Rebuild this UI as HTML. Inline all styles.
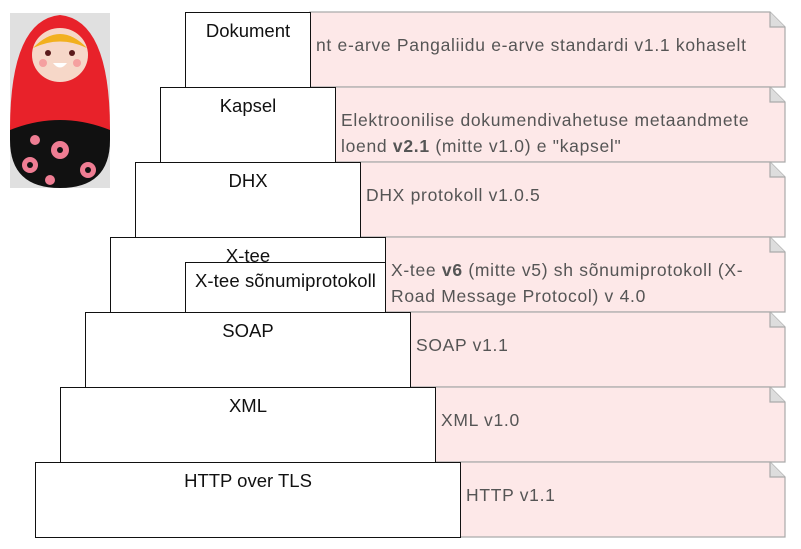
<!DOCTYPE html>
<html><head><meta charset="utf-8"><style>
body{margin:0;width:801px;height:549px;background:#fff;position:relative;overflow:hidden;font-family:"Liberation Sans",sans-serif}
.b{position:absolute;box-sizing:border-box;border:1.5px solid #111;background:#fff;text-align:center;font-size:18.5px;color:#111;padding-top:7px;height:76px}
.n{position:absolute;height:76px;font-size:17.5px;letter-spacing:0.7px;color:#555;line-height:26px;white-space:nowrap}
.n span{position:absolute;left:6px;top:20px}
</style></head><body>
<svg width="801" height="549" style="position:absolute;left:0;top:0">
<g fill="#fde8e8" stroke="#aaa" stroke-width="1.2">
<path d="M310 12H770L785 27V87H310Z"/><path d="M770 12V27H785" fill="#ddd"/>
<path d="M335 87H770L785 102V162H335Z"/><path d="M770 87V102H785" fill="#ddd"/>
<path d="M360 162H770L785 177V237H360Z"/><path d="M770 162V177H785" fill="#ddd"/>
<path d="M385 237H770L785 252V312H385Z"/><path d="M770 237V252H785" fill="#ddd"/>
<path d="M410 312H770L785 327V387H410Z"/><path d="M770 312V327H785" fill="#ddd"/>
<path d="M435 387H770L785 402V462H435Z"/><path d="M770 387V402H785" fill="#ddd"/>
<path d="M460 462H770L785 477V537H460Z"/><path d="M770 462V477H785" fill="#ddd"/>
</g>
<rect x="10" y="13" width="100" height="175" fill="#e0e0e0"/>
<path d="M10 130 Q10 20 60 15 Q110 20 110 130 Z" fill="#e8222a"/>
<path d="M10 130 Q60 110 110 130 L110 140 Q110 188 60 188 Q10 188 10 140Z" fill="#111"/>
<ellipse cx="60" cy="55" rx="28" ry="27" fill="#f6d7c8"/>
<path d="M33 48 Q60 20 87 48 Q60 35 33 48Z" fill="#f2b01e"/>
<circle cx="48" cy="53" r="3" fill="#5a1a1a"/><circle cx="72" cy="53" r="3" fill="#5a1a1a"/>
<circle cx="43" cy="63" r="4" fill="#f5a0a0"/><circle cx="77" cy="63" r="4" fill="#f5a0a0"/>
<path d="M53 63 Q60 72 67 63Z" fill="#fff"/>
<g fill="#ef7d93"><circle cx="60" cy="150" r="9"/><circle cx="30" cy="165" r="8"/><circle cx="88" cy="170" r="8"/><circle cx="35" cy="140" r="5"/><circle cx="50" cy="180" r="5"/></g>
<g fill="#111"><circle cx="60" cy="150" r="3"/><circle cx="30" cy="165" r="3"/><circle cx="88" cy="170" r="3"/></g>
</svg>
<div class="b" style="left:185px;top:12px;width:126px">Dokument</div>
<div class="b" style="left:160px;top:87px;width:176px">Kapsel</div>
<div class="b" style="left:135px;top:162px;width:226px">DHX</div>
<div class="b" style="left:110px;top:237px;width:276px">X-tee</div>
<div class="b" style="left:185px;top:262px;width:201px;height:51px;padding-top:7px;font-size:18.5px;white-space:nowrap;letter-spacing:0.1px">X-tee sõnumiprotokoll</div>
<div class="b" style="left:85px;top:312px;width:326px">SOAP</div>
<div class="b" style="left:60px;top:387px;width:376px">XML</div>
<div class="b" style="left:35px;top:462px;width:426px">HTTP over TLS</div>
<div class="n" style="left:310px;top:12px"><span>nt e-arve Pangaliidu e-arve standardi v1.1 kohaselt</span></div>
<div class="n" style="left:335px;top:87px"><span>Elektroonilise dokumendivahetuse metaandmete<br>loend <b>v2.1</b> (mitte v1.0) e "kapsel"</span></div>
<div class="n" style="left:360px;top:162px"><span>DHX protokoll v1.0.5</span></div>
<div class="n" style="left:385px;top:237px"><span>X-tee <b>v6</b> (mitte v5) sh sõnumiprotokoll (X-<br>Road Message Protocol) v 4.0</span></div>
<div class="n" style="left:410px;top:312px"><span>SOAP v1.1</span></div>
<div class="n" style="left:435px;top:387px"><span>XML v1.0</span></div>
<div class="n" style="left:460px;top:462px"><span>HTTP v1.1</span></div>
</body></html>
